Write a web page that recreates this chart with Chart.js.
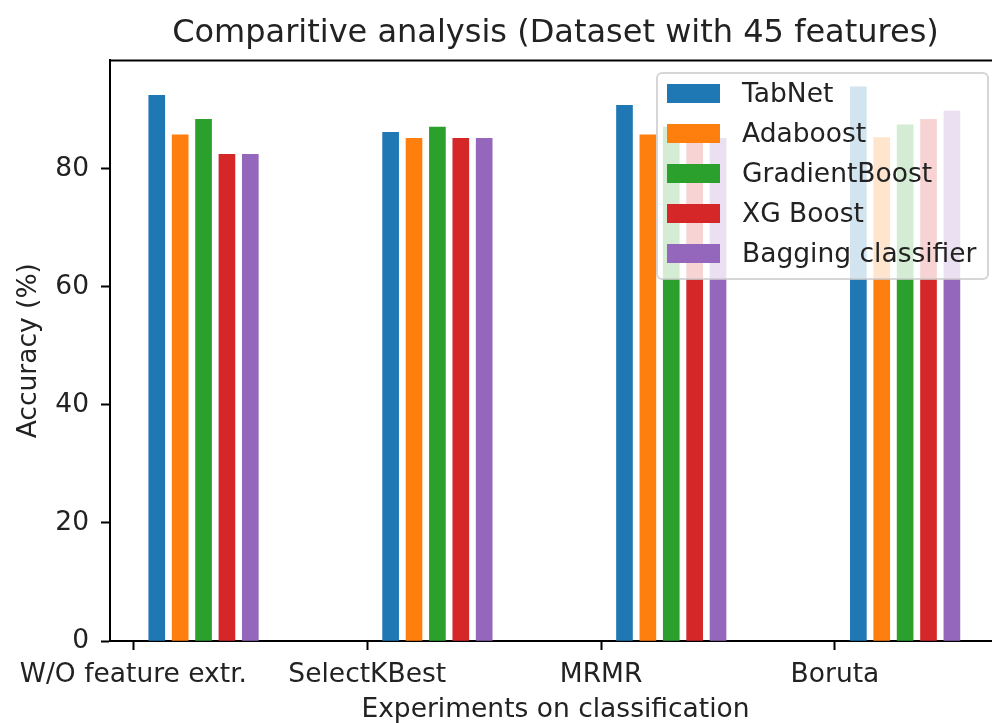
<!DOCTYPE html>
<html>
<head>
<meta charset="utf-8">
<script src="https://cdn.jsdelivr.net/npm/chart.js@4.4.0/dist/chart.umd.min.js"></script>
<style>
  html, body { margin: 0; padding: 0; background: #fff; overflow: hidden; }
  #barChart { display: block; }
</style>
</head>
<body>
<canvas id="barChart" width="1010" height="723"></canvas>
<script>
// Accuracy per experiment, one array per classifier
var categories = ['W/O feature extr.', 'SelectKBest', 'MRMR', 'Boruta'];
var models = ['TabNet', 'Adaboost', 'GradientBoost', 'XG Boost', 'Bagging classifier'];
var tabnet = [92.5, 86.2, 90.8, 93.9];
var adaboost = [85.8, 85.2, 85.8, 85.3];
var gradientBoost = [88.4, 87.1, 87.1, 87.5];
var xgBoost = [82.5, 85.2, 85.4, 88.4];
var bagging = [82.5, 85.2, 85.2, 89.8];
var yTicks = [0, 20, 40, 60, 80];
var colors = ['#1f77b4', '#ff7f0e', '#2ca02c', '#d62728', '#9467bd'];

var series = [tabnet, adaboost, gradientBoost, xgBoost, bagging];
var FONT = "'DejaVu Sans', sans-serif";
var TEXT = '#222';
var SIZE = 26.5;

// each model sits 0.1 to the right of the previous one, starting 0.1 past the tick
var datasets = series.map(function (values, k) {
    return {
        label: models[k],
        backgroundColor: colors[k],
        borderWidth: 0,
        data: values.map(function (v, i) {
            return {x: i + 0.1 * (k + 1), y: v};
        })
    };
});

// matplotlib-style frame (top/right spines) and legend box over the bars
var framePlugin = {
    id: 'frameAndLegend',
    afterDatasetsDraw: function (chart) {
        var ctx = chart.ctx;
        var a = chart.chartArea;
        ctx.save();
        ctx.strokeStyle = '#000';
        ctx.lineWidth = 2;
        ctx.beginPath();
        ctx.moveTo(a.left - 1, a.top);
        ctx.lineTo(a.right, a.top);
        ctx.lineTo(a.right, a.bottom);
        ctx.stroke();

        // legend
        var bx = 657, by = 73, bw = 331, bh = 206;
        ctx.beginPath();
        ctx.roundRect(bx, by, bw, bh, 5);
        ctx.fillStyle = 'rgba(255,255,255,0.8)';
        ctx.fill();
        ctx.strokeStyle = 'rgba(204,204,204,0.8)';
        ctx.lineWidth = 2;
        ctx.stroke();

        ctx.font = SIZE + 'px ' + FONT;
        ctx.textBaseline = 'middle';
        ctx.textAlign = 'left';
        chart.data.datasets.forEach(function (ds, i) {
            var rowTop = 84 + i * 40;
            ctx.fillStyle = ds.backgroundColor;
            ctx.fillRect(667, rowTop, 53, 19);
            ctx.fillStyle = TEXT;
            ctx.fillText(ds.label, 742, rowTop + 11);
        });
        ctx.restore();
    }
};

var ctx = document.getElementById('barChart').getContext('2d');
var barChart = new Chart(ctx, {
    type: 'bar',
    data: {datasets: datasets},
    plugins: [framePlugin],
    options: {
        responsive: false,
        animation: false,
        layout: {padding: {left: 0, right: 9, top: 0, bottom: 0}},
        datasets: {
            bar: {grouped: false, barThickness: 16}
        },
        plugins: {
            legend: {display: false},
            tooltip: {enabled: false},
            title: {
                display: true,
                text: 'Comparitive analysis (Dataset with 45 features)',
                fullSize: false,
                color: TEXT,
                font: {family: FONT, size: 32, weight: 'normal', lineHeight: 1.2},
                padding: {top: 14, bottom: 8}
            }
        },
        scales: {
            x: {
                type: 'linear',
                min: -0.1,
                max: 3.71,
                offset: false,
                afterBuildTicks: function (scale) {
                    scale.ticks = categories.map(function (c, i) { return {value: i}; });
                },
                afterFit: function (scale) { scale.height = 82; },
                grid: {display: true, drawOnChartArea: false, offset: false,
                       tickLength: 9, tickWidth: 2, tickColor: '#000'},
                border: {display: true, color: '#000', width: 2},
                ticks: {
                    color: TEXT,
                    padding: 9,
                    maxRotation: 0,
                    autoSkip: false,
                    font: {family: FONT, size: SIZE},
                    callback: function (v) { return categories[v]; }
                },
                title: {
                    display: true,
                    text: 'Experiments on classification',
                    color: TEXT,
                    font: {family: FONT, size: SIZE, lineHeight: 1},
                    padding: {top: 0, bottom: 0}
                }
            },
            y: {
                min: 0,
                max: 98.4,
                afterBuildTicks: function (scale) {
                    scale.ticks = yTicks.map(function (v) { return {value: v}; });
                },
                afterFit: function (scale) { scale.width = 110; },
                grid: {display: true, drawOnChartArea: false,
                       tickLength: 9, tickWidth: 2, tickColor: '#000'},
                border: {display: true, color: '#000', width: 2},
                ticks: {
                    color: TEXT,
                    padding: 12,
                    font: {family: FONT, size: SIZE}
                },
                title: {
                    display: true,
                    text: 'Accuracy (%)',
                    color: TEXT,
                    font: {family: FONT, size: SIZE, lineHeight: 1.2},
                    padding: {top: 13, bottom: 0}
                }
            }
        }
    }
});
</script>
</body>
</html>
